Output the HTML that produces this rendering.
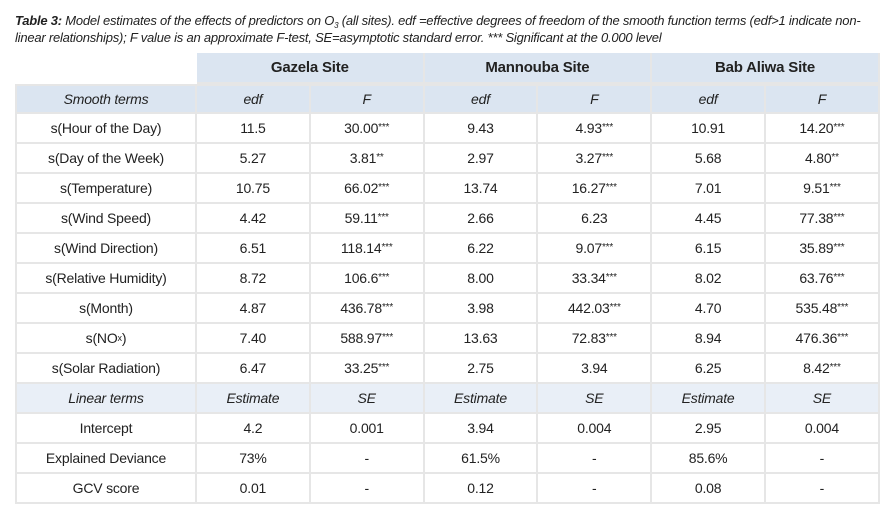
<!DOCTYPE html>
<html><head><meta charset="utf-8">
<style>
body{margin:0;width:886px;height:520px;background:#fff;font-family:"Liberation Sans",sans-serif;color:#222;position:relative;overflow:hidden}
.cap{position:absolute;left:15px;top:12px;font-size:13px;font-style:italic;line-height:17px;letter-spacing:-0.22px;color:#222;width:880px;white-space:nowrap}
.cap b{font-weight:bold}
.cap sub{font-size:8px;line-height:0;vertical-align:-3px}
.c{position:absolute;box-sizing:border-box;display:flex;align-items:center;justify-content:center;font-size:14px;letter-spacing:-0.2px;border-right:2px solid #e6e6e6;border-bottom:2px solid #e6e6e6}
.h{background:#dbe5f1}
.l{background:#e9eff7}
.i{font-style:italic}
sup{font-size:10px;vertical-align:5px;line-height:0}
</style></head><body>
<div class="cap"><b>Table 3:</b> Model estimates of the effects of predictors on O<sub>3</sub> (all sites). edf =effective degrees of freedom of the smooth function terms (edf&gt;1 indicate non-<br>linear relationships); F value is an approximate F-test, SE=asymptotic standard error. *** Significant at the 0.000 level</div>
<div id="t"></div>
<script>
const sites=["Gazela Site","Mannouba Site","Bab Aliwa Site"];
const rows=[
["Smooth terms","edf","F","edf","F","edf","F","h"],
["s(Hour of the Day)","11.5","30.00***","9.43","4.93***","10.91","14.20***"],
["s(Day of the Week)","5.27","3.81**","2.97","3.27***","5.68","4.80**"],
["s(Temperature)","10.75","66.02***","13.74","16.27***","7.01","9.51***"],
["s(Wind Speed)","4.42","59.11***","2.66","6.23","4.45","77.38***"],
["s(Wind Direction)","6.51","118.14***","6.22","9.07***","6.15","35.89***"],
["s(Relative Humidity)","8.72","106.6***","8.00","33.34***","8.02","63.76***"],
["s(Month)","4.87","436.78***","3.98","442.03***","4.70","535.48***"],
["s(NOx)","7.40","588.97***","13.63","72.83***","8.94","476.36***"],
["s(Solar Radiation)","6.47","33.25***","2.75","3.94","6.25","8.42***"],
["Linear terms","Estimate","SE","Estimate","SE","Estimate","SE","h"],
["Intercept","4.2","0.001","3.94","0.004","2.95","0.004"],
["Explained Deviance","73%","-","61.5%","-","85.6%","-"],
["GCV score","0.01","-","0.12","-","0.08","-"]];
const L=15,W0=182,CW=113.8,T=53,RH=30;
const t=document.getElementById('t');
function fmt(s){
  if(s==="s(NOx)") return 's(NO<sub style="font-size:9px;line-height:0">x</sub>)';
  return s.replace(/(\*+)$/,'<sup>$1</sup>');
}
sites.forEach((s,i)=>{
  const d=document.createElement('div');
  
  
  d.className='c h';
  d.style.cssText=`left:${L+W0+i*2*CW}px;top:${T}px;width:${2*CW}px;height:${RH+1}px;font-weight:bold;font-size:15px`;
  d.textContent=s;t.appendChild(d);
});
rows.forEach((r,ri)=>{
  const hdr=r[7]==="h";
  for(let ci=0;ci<7;ci++){
    const d=document.createElement('div');
    
    
    d.className='c'+(hdr?(ri===0?' h i':' l i'):'');
    const x=ci===0?L:L+W0+(ci-1)*CW;
    d.style.cssText=`left:${x}px;top:${T+RH+1+ri*RH}px;width:${ci===0?W0:CW}px;height:${RH}px;`+(ci===0?'border-left:2px solid #e6e6e6;':'')+(ri===0?'border-top:2px solid #e6e6e6;':'');
    d.innerHTML=fmt(r[ci]);t.appendChild(d);
  }
});
</script>
</body></html>
